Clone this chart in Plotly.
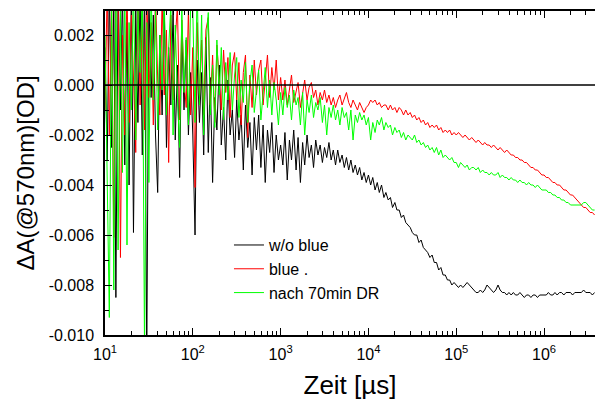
import plotly.graph_objects as go

# Sampling times [µs]
time_us = [
    10.0, 10.6, 11.2, 11.9, 12.6, 13.3, 14.1, 15.0, 15.8, 16.8, 17.8, 18.8, 20.0, 21.1, 22.4, 23.7, 25.1, 26.6, 28.2, 29.9,
    31.6, 33.5, 35.5, 37.6, 39.8, 42.2, 44.7, 47.3, 50.1, 53.1, 56.2, 59.6, 63.1, 66.8, 70.8, 75.0, 79.4, 84.1, 89.1, 94.4,
    100, 106, 112, 119, 126, 133, 141, 150, 158, 168, 178, 188, 200, 211, 224, 237, 251, 266, 282, 299,
    316, 335, 355, 376, 398, 422, 447, 473, 501, 531, 562, 596, 631, 668, 708, 750, 794, 841, 891, 944,
    1000, 1060, 1120, 1190, 1260, 1330, 1410, 1500, 1580, 1680, 1780, 1880, 2000, 2110, 2240, 2370, 2510, 2660, 2820, 2990,
    3160, 3350, 3550, 3760, 3980, 4220, 4470, 4730, 5010, 5310, 5620, 5960, 6310, 6680, 7080, 7500, 7940, 8410, 8910, 9440,
    10000, 10600, 11200, 11900, 12600, 13300, 14100, 15000, 15800, 16800, 17800, 18800, 20000, 21100, 22400, 23700, 25100, 26600, 28200, 29900,
    31600, 33500, 35500, 37600, 39800, 42200, 44700, 47300, 50100, 53100, 56200, 59600, 63100, 66800, 70800, 75000, 79400, 84100, 89100, 94400,
    100000, 106000, 112000, 119000, 126000, 133000, 141000, 150000, 158000, 168000, 178000, 188000, 200000, 211000, 224000, 237000, 251000, 266000, 282000, 299000,
    316000, 335000, 355000, 376000, 398000, 422000, 447000, 473000, 501000, 531000, 562000, 596000, 631000, 668000, 708000, 750000, 794000, 841000, 891000, 944000,
    1000000, 1060000, 1120000, 1190000, 1260000, 1330000, 1410000, 1500000, 1580000, 1680000, 1780000, 1880000, 2000000, 2110000, 2240000, 2370000, 2510000, 2660000, 2820000, 2990000,
    3160000, 3350000, 3550000, 3760000,
]

# ΔA values in mOD
wo_blue_mOD = [
    1.5, -3.0, 4.0, -2.5, 3.5, -8.5, 4.0, -1.0, 3.8, -3.2, 2.5, -4.0, 4.0, -5.9, 3.0, -1.5, 3.6, -2.8, 4.0, -11.0,
    3.5, -0.5, 2.8, -2.0, -4.3, 2.0, -1.2, 3.2, -2.5, 1.5, -0.8, 3.0, -2.2, 0.8, -3.7, 2.2, -1.0, 1.8, -2.0, 0.5,
    -2.0, -6.0, 1.0, -1.5, 0.5, -2.8, 1.9, -2.7, 0.3, -3.9, -0.5, -1.8, 0.8, -2.4, -0.9, -3.0, 0.2, -2.0, -1.0, -2.9,
    -0.6, -2.2, -1.2, -3.4, -0.8, -2.5, -1.5, -3.6, -1.3, -2.6, -1.2, -3.3, -1.6, -3.9, -1.8, -2.7, -1.5, -3.5, -2.0, -3.0,
    -2.4, -3.2, -1.9, -3.8, -2.2, -3.0, -1.8, -3.4, -2.1, -3.9, -2.3, -3.2, -2.0, -2.9, -2.4, -3.3, -2.2, -2.8, -2.4, -3.1,
    -2.5, -2.9, -2.3, -3.0, -2.6, -3.2, -2.6, -3.1, -2.8, -3.3, -2.9, -3.4, -3.0, -3.5, -3.2, -3.6, -3.3, -3.8, -3.5, -3.9,
    -3.6, -4.0, -3.7, -4.2, -3.9, -4.3, -4.0, -4.5, -4.3, -4.6, -4.5, -4.9, -4.7, -5.0, -5.0, -5.3, -5.2, -5.5, -5.6, -5.7,
    -5.9, -6.0, -6.0, -6.3, -6.2, -6.5, -6.6, -6.7, -6.9, -6.8, -7.1, -7.1, -7.4, -7.3, -7.6, -7.6, -7.8, -7.8, -8.0, -7.9,
    -8.0, -8.1, -8.0, -8.1, -8.0, -7.9, -8.0, -8.1, -8.2, -8.3, -8.3, -8.2, -8.3, -8.2, -8.0, -8.1, -8.2, -8.3, -8.2, -8.0,
    -8.2, -8.3, -8.3, -8.4, -8.3, -8.4, -8.3, -8.4, -8.4, -8.3, -8.4, -8.5, -8.4, -8.4, -8.5, -8.4, -8.4, -8.5, -8.4, -8.4,
    -8.4, -8.4, -8.3, -8.4, -8.4, -8.3, -8.4, -8.3, -8.3, -8.4, -8.3, -8.3, -8.3, -8.4, -8.3, -8.3, -8.3, -8.3, -8.2, -8.3,
    -8.3, -8.3, -8.4, -8.3,
]

blue_mOD = [
    -1.0, 4.0, -2.0, 3.5, -6.1, 3.0, 4.0, -6.9, 2.0, -2.0, 4.0, -1.5, 3.0, 0.5, -2.7, 4.0, -0.8, 3.2, -1.8, 4.0,
    -0.5, 2.5, -1.6, 3.8, 0.2, -1.2, 3.5, -0.4, 2.2, -3.1, 2.8, -0.6, 1.8, 3.2, -1.4, 2.6, 0.2, -0.9, 3.0, -1.2,
    1.5, -4.1, 2.5, -0.5, 1.8, -1.2, 2.2, 2.7, -0.8, 1.2, -1.5, 1.6, 0.2, -1.0, 1.4, -0.3, 1.1, -1.3, 0.8, 1.3,
    -0.6, 0.9, -1.6, 0.5, 1.2, -2.1, 0.4, -0.9, 1.0, -0.4, 0.6, 1.0, -0.8, 0.3, 1.2, -0.5, 0.7, -0.2, 1.0, -0.6,
    0.3, -0.6, 0.2, -0.8, -0.1, 0.4, -0.7, -0.2, 0.1, -0.9, -0.3, 0.2, -0.6, -0.1, 0.1, -0.5, -0.2, -0.8, -0.3, -0.6,
    -0.2, -0.7, -0.4, -0.8, -0.5, -0.9, -0.6, -0.4, -0.8, -0.5, -0.3, -0.7, -0.9, -0.6, -0.8, -1.0, -0.7, -0.9, -1.1, -0.9,
    -0.8, -0.6, -0.7, -0.6, -0.8, -0.7, -0.9, -0.8, -0.8, -1.0, -0.8, -1.0, -0.9, -1.1, -0.9, -1.0, -1.2, -1.0, -1.2, -1.1,
    -1.3, -1.2, -1.4, -1.3, -1.5, -1.4, -1.6, -1.5, -1.7, -1.6, -1.7, -1.6, -1.8, -1.7, -1.9, -1.8, -1.9, -1.8, -2.0, -1.9,
    -2.0, -1.9, -2.0, -2.1, -2.0, -2.1, -2.2, -2.1, -2.2, -2.3, -2.2, -2.3, -2.4, -2.3, -2.4, -2.4, -2.5, -2.4, -2.5, -2.6,
    -2.5, -2.6, -2.7, -2.6, -2.7, -2.8, -2.8, -2.9, -2.9, -3.0, -3.0, -3.1, -3.1, -3.2, -3.3, -3.3, -3.4, -3.4, -3.5, -3.6,
    -3.6, -3.7, -3.7, -3.8, -3.9, -3.9, -4.0, -4.0, -4.1, -4.2, -4.2, -4.3, -4.4, -4.4, -4.5, -4.6, -4.7, -4.8, -4.9, -4.9,
    -5.0, -5.1, -5.1, -5.2,
]

nach70_mOD = [
    2.0, -4.0, -9.3, 3.5, -8.2, 4.0, -6.6, 3.0, -3.5, 4.0, -6.4, 2.5, -1.0, 4.0, -2.2, 3.0, 0.5, 4.0, -10.8, 2.5,
    -3.9, 4.0, -0.6, 3.0, -1.8, 2.0, -0.2, 3.5, -1.2, 1.5, 3.2, -2.0, 2.4, -0.5, -2.5, 3.0, -0.3, 1.9, -1.6, 3.2,
    3.0, -1.5, 4.0, -0.8, 2.8, -2.0, 1.5, 2.9, -1.2, 0.8, -1.7, 1.8, -0.4, 1.5, -1.4, 0.9, -0.6, 1.3, -1.0, 0.4,
    1.1, -1.3, 0.2, -0.7, 0.9, -1.5, 0.1, 0.8, -1.1, -0.2, 0.6, -1.4, -0.3, 0.7, -0.9, 0.2, -1.2, 0.1, -0.6, -1.6,
    -0.3, -1.2, -0.1, -0.9, -0.4, -1.4, -0.2, -0.8, -0.5, -1.6, -0.3, -2.0, -0.6, -1.1, -0.4, -1.3, -0.7, -1.0, -0.5, -1.5,
    -0.8, -2.0, -0.9, -1.3, -0.8, -1.4, -1.0, -1.6, -0.9, -1.3, -1.1, -1.8, -1.0, -2.2, -1.2, -1.5, -1.1, -1.4, -1.2, -1.6,
    -1.3, -2.2, -1.5, -1.9, -1.4, -1.6, -1.3, -1.8, -1.5, -1.7, -1.6, -2.0, -1.7, -1.9, -1.8, -2.1, -1.9, -2.2, -2.0, -2.1,
    -2.2, -2.0, -2.3, -2.2, -2.4, -2.3, -2.5, -2.4, -2.6, -2.5, -2.7, -2.5, -2.8, -2.6, -2.9, -2.8, -2.9, -3.0, -2.9, -3.1,
    -3.1, -3.3, -3.1, -3.2, -3.3, -3.2, -3.4, -3.3, -3.3, -3.4, -3.3, -3.5, -3.4, -3.5, -3.5, -3.6, -3.5, -3.6, -3.6, -3.5,
    -3.7, -3.6, -3.7, -3.7, -3.8, -3.7, -3.8, -3.8, -3.9, -3.8, -3.9, -3.9, -4.0, -3.9, -4.0, -4.0, -4.1, -4.0, -4.1, -4.2,
    -4.2, -4.2, -4.3, -4.3, -4.4, -4.4, -4.5, -4.5, -4.6, -4.6, -4.7, -4.7, -4.8, -4.8, -4.8, -4.8, -4.8, -4.8, -4.7, -4.7,
    -4.8, -4.9, -5.0, -5.0,
]

series_names = ["w/o blue", "blue .", "nach 70min DR"]
series_colors = ["#000000", "#ff0000", "#00ff00"]
series_values = [wo_blue_mOD, blue_mOD, nach70_mOD]

y_tick_vals = [-0.010, -0.008, -0.006, -0.004, -0.002, 0.000, 0.002]
y_tick_text = ["-0.010", "-0.008", "-0.006", "-0.004", "-0.002", "0.000", "0.002"]
y_minor_vals = [-0.009, -0.007, -0.005, -0.003, -0.001, 0.001]
x_tick_vals = [10, 100, 1000, 10000, 100000, 1000000]
x_tick_text = ["10<sup>1</sup>", "10<sup>2</sup>", "10<sup>3</sup>", "10<sup>4</sup>", "10<sup>5</sup>", "10<sup>6</sup>"]
x_minor_vals = [m * 10 ** d for d in range(1, 7) for m in range(2, 10)]

FONT = "Arial, Liberation Sans, sans-serif"

fig = go.Figure()
for name, color, vals in zip(series_names, series_colors, series_values):
    fig.add_trace(go.Scatter(
        x=time_us, y=[v / 1000.0 for v in vals], mode="lines", name=name,
        line=dict(color=color, width=1),
    ))

fig.add_shape(type="line", xref="paper", yref="y", x0=0, x1=1, y0=0, y1=0,
              line=dict(color="black", width=1.5), layer="above")

fig.update_layout(
    width=595, height=401,
    margin=dict(l=105, r=0, t=11, b=66, pad=0),
    paper_bgcolor="white", plot_bgcolor="white",
    font=dict(family=FONT, color="black", size=16),
    showlegend=True,
    legend=dict(x=0.253, y=0.33, xanchor="left", yanchor="top",
                bgcolor="rgba(0,0,0,0)", font=dict(size=16, family=FONT),
                tracegroupgap=0, itemwidth=30),
    xaxis=dict(
        type="log", range=[1, 6.58], showgrid=False, zeroline=False,
        showline=True, linecolor="black", linewidth=1.5, mirror="ticks",
        ticks="inside", ticklen=7, tickwidth=1.2, tickcolor="black",
        tickvals=x_tick_vals, ticktext=x_tick_text, ticklabelstandoff=4,
        tickfont=dict(size=16),
        minor=dict(ticks="inside", ticklen=4, tickwidth=1, tickcolor="black",
                   tickvals=x_minor_vals, showgrid=False),
        title=dict(text="Zeit [µs]", font=dict(size=26), standoff=14),
    ),
    yaxis=dict(
        range=[-0.010, 0.00296], showgrid=False, zeroline=False,
        showline=True, linecolor="black", linewidth=1.5,
        ticks="inside", ticklen=7, tickwidth=1.2, tickcolor="black",
        tickvals=y_tick_vals, ticktext=y_tick_text, ticklabelstandoff=6,
        tickfont=dict(size=16),
        minor=dict(ticks="inside", ticklen=4, tickwidth=1, tickcolor="black",
                   tickvals=y_minor_vals, showgrid=False),
        title=dict(text="ΔA(@570nm)[OD]", font=dict(size=24), standoff=7),
    ),
)

fig.write_html("out.html")
